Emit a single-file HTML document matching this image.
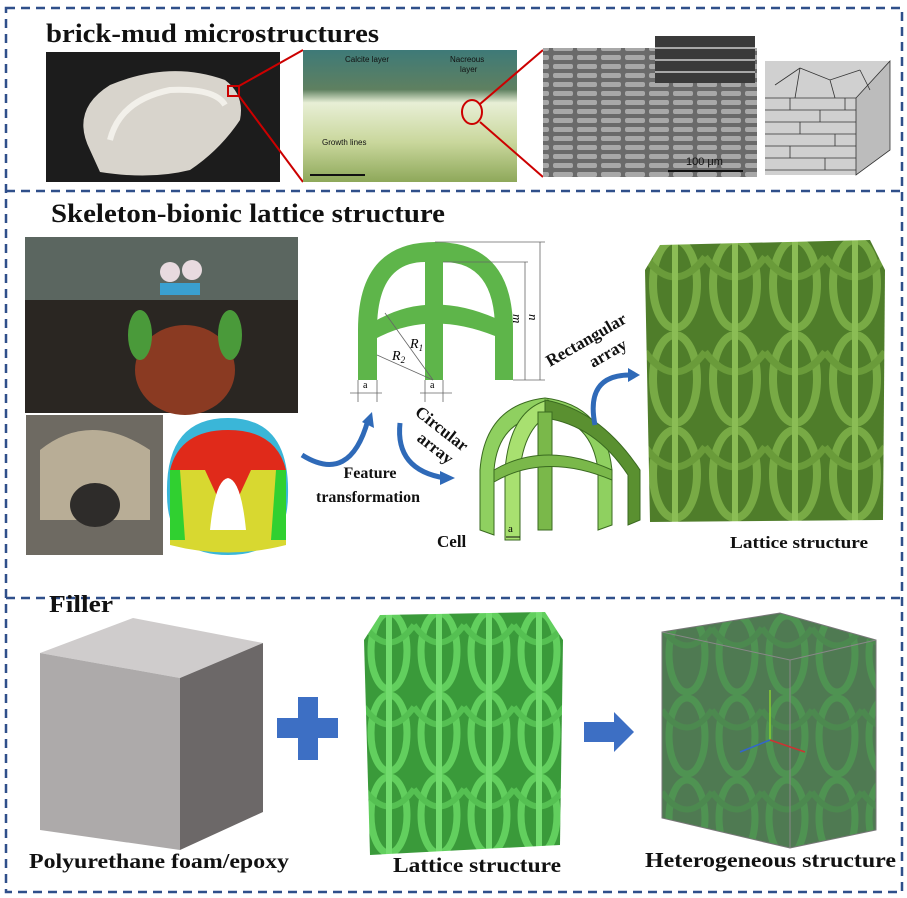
<!DOCTYPE html>
<html><head><meta charset="utf-8"><style>
html,body{margin:0;padding:0;background:#fff}
svg{display:block}
.t{font-family:"Liberation Serif",serif;font-weight:bold;fill:#111}
</style></head><body>
<svg width="907" height="898" viewBox="0 0 907 898" xmlns="http://www.w3.org/2000/svg">
<defs>
<pattern id="lat" x="645" y="237" width="60" height="95" patternUnits="userSpaceOnUse">
<rect width="60" height="95" fill="#4f7d2a"/>
<ellipse cx="30" cy="47" rx="22" ry="44" fill="none" stroke="#78aa45" stroke-width="8"/>
<path d="M0 20 Q30 60 60 20" fill="none" stroke="#6a9b3a" stroke-width="7"/>
<rect x="27" y="0" width="6" height="95" fill="#8bbd55"/>
</pattern>
<pattern id="lat2" x="364" y="610" width="50" height="82" patternUnits="userSpaceOnUse">
<rect width="50" height="82" fill="#3a9a3a"/>
<ellipse cx="25" cy="41" rx="18" ry="38" fill="none" stroke="#62cf5e" stroke-width="7"/>
<path d="M0 15 Q25 50 50 15" fill="none" stroke="#55c052" stroke-width="6"/>
<rect x="22" y="0" width="6" height="82" fill="#72dc6e"/>
</pattern>
<pattern id="lat3" x="662" y="613" width="50" height="82" patternUnits="userSpaceOnUse">
<rect width="50" height="82" fill="#2f6a2f"/>
<ellipse cx="25" cy="41" rx="18" ry="38" fill="none" stroke="#2f8f2f" stroke-width="7"/>
<path d="M0 15 Q25 50 50 15" fill="none" stroke="#2a802a" stroke-width="6"/>
</pattern>
<linearGradient id="micro" x1="0" y1="0" x2="0" y2="1">
<stop offset="0" stop-color="#3e7a78"/><stop offset=".3" stop-color="#5f8060"/><stop offset=".4" stop-color="#e8efd6"/><stop offset=".7" stop-color="#c9d79c"/><stop offset="1" stop-color="#8ea85a"/></linearGradient>
<pattern id="sem" width="24" height="9" patternUnits="userSpaceOnUse">
<rect width="24" height="9" fill="#6a6a6a"/><rect x="1" y="1" width="20" height="5" rx="2" fill="#a8a8a8"/></pattern>
</defs>
<rect x="6" y="8" width="896" height="884" fill="none" stroke="#2f4f8a" stroke-width="2.5" stroke-dasharray="9,6"/>
<line x1="6" y1="191" x2="902" y2="191" stroke="#2f4f8a" stroke-width="2.5" stroke-dasharray="9,6"/>
<line x1="6" y1="598" x2="902" y2="598" stroke="#2f4f8a" stroke-width="2.5" stroke-dasharray="9,6"/>

<text class="t" x="46" y="42" font-size="26" textLength="333" lengthAdjust="spacingAndGlyphs">brick-mud microstructures</text>
<rect x="46" y="52" width="234" height="130" fill="#1c1c1c"/>
<path d="M90 150 Q70 110 110 85 Q170 60 225 80 Q245 95 240 120 Q220 150 190 170 Q150 180 100 172 Z" fill="#d8d4cc"/>
<path d="M110 140 Q120 100 170 90 Q215 88 225 105" fill="none" stroke="#f2f0ea" stroke-width="6"/>
<rect x="228" y="86" width="11" height="10" fill="none" stroke="#c00" stroke-width="2"/>
<line x1="239" y1="86" x2="303" y2="50" stroke="#c00" stroke-width="2"/>
<line x1="239" y1="96" x2="303" y2="182" stroke="#c00" stroke-width="2"/>
<rect x="303" y="50" width="214" height="132" fill="url(#micro)"/>
<text x="345" y="62" font-family="Liberation Sans,sans-serif" font-size="8" fill="#111">Calcite layer</text>
<text x="450" y="62" font-family="Liberation Sans,sans-serif" font-size="8" fill="#111">Nacreous</text>
<text x="460" y="72" font-family="Liberation Sans,sans-serif" font-size="8" fill="#111">layer</text>
<text x="322" y="145" font-family="Liberation Sans,sans-serif" font-size="8" fill="#111">Growth lines</text>
<rect x="310" y="174" width="55" height="2" fill="#111"/>
<ellipse cx="472" cy="112" rx="10" ry="12" fill="none" stroke="#c00" stroke-width="2"/>
<line x1="480" y1="104" x2="543" y2="50" stroke="#c00" stroke-width="2"/>
<line x1="480" y1="122" x2="543" y2="177" stroke="#c00" stroke-width="2"/>
<rect x="543" y="48" width="214" height="129" fill="url(#sem)"/>
<rect x="655" y="36" width="100" height="47" fill="#3a3a3a"/>
<g stroke="#ccc" stroke-width="1.5"><line x1="655" y1="48" x2="755" y2="48"/><line x1="655" y1="60" x2="755" y2="60"/><line x1="655" y1="72" x2="755" y2="72"/></g>
<rect x="668" y="170" width="75" height="2" fill="#111"/>
<text x="686" y="165" font-family="Liberation Sans,sans-serif" font-size="11" fill="#111">100 μm</text>
<polygon points="765,61 890,61 890,150 856,175 765,175" fill="#d0d0d0"/>
<polygon points="856,98 890,61 890,150 856,175" fill="#bcbcbc" stroke="#333" stroke-width="0.8"/>
<g stroke="#333" stroke-width="0.8" fill="none">
<path d="M765 98 L856 98"/><path d="M765 110 H856 M765 122 H856 M765 134 H856 M765 146 H856 M765 158 H856 M765 170 H856"/>
<path d="M790 98v12 M820 110v12 M800 122v12 M835 134v12 M790 146v12 M825 158v12 M845 98v12"/>
<path d="M775 85 L800 68 M800 68 L830 80 L860 70 M830 80 L835 98 M800 68 L795 98 M860 70 L870 90"/>
</g>

<text class="t" x="51" y="222" font-size="26" textLength="394" lengthAdjust="spacingAndGlyphs">Skeleton-bionic lattice structure</text>
<rect x="25" y="237" width="273" height="176" fill="#5b6660"/>
<rect x="25" y="300" width="273" height="113" fill="#2a2622"/>
<ellipse cx="185" cy="370" rx="50" ry="45" fill="#8a3a22"/>
<ellipse cx="140" cy="335" rx="12" ry="25" fill="#4a9a3a"/>
<ellipse cx="230" cy="335" rx="12" ry="25" fill="#4a9a3a"/>
<circle cx="170" cy="272" r="10" fill="#e8dadf"/><circle cx="192" cy="270" r="10" fill="#e8dadf"/>
<rect x="160" y="283" width="40" height="12" fill="#3aa0d0"/>
<rect x="26" y="415" width="137" height="140" fill="#6e6a62"/>
<path d="M40 450 Q90 410 150 450 L150 520 L40 520Z" fill="#b8ad96"/>
<ellipse cx="95" cy="505" rx="25" ry="22" fill="#2e2c2a"/>
<g>
<path d="M167 495 Q165 418 228 418 Q290 418 288 495 Q288 555 228 555 Q167 555 167 495Z" fill="#3ab6d8"/>
<path d="M170 470 Q180 430 228 430 Q276 430 286 470 L286 540 L170 540Z" fill="#e02a1a"/>
<path d="M170 470 L205 470 L228 520 L251 470 L286 470 L286 545 Q228 560 170 545Z" fill="#d8d830"/>
<path d="M170 470 L180 470 L185 540 L170 540Z M286 470 L276 470 L271 540 L286 540Z" fill="#30d030"/>
<path d="M210 530 Q215 480 228 478 Q241 480 246 530Z" fill="#fff"/>
</g>

<path d="M358 380 L358 330 Q358 242 435 242 Q513 242 513 330 L513 380 L495 380 L495 330 Q495 262 443 262 L443 380 L425 380 L425 262 Q377 262 377 330 L377 380 Z" fill="#5eb54a"/>
<path d="M377 320 Q430 290 495 318 L495 336 Q430 310 377 338Z" fill="#5eb54a"/>
<g stroke="#666" stroke-width="0.8" fill="none">
<line x1="435" y1="242" x2="545" y2="242"/><line x1="443" y1="262" x2="528" y2="262"/>
<line x1="513" y1="380" x2="545" y2="380"/>
<line x1="540" y1="242" x2="540" y2="380"/><line x1="525" y1="262" x2="525" y2="380"/>
<line x1="385" y1="313" x2="433" y2="380"/><line x1="377" y1="355" x2="433" y2="380"/>
<line x1="358" y1="380" x2="358" y2="402"/><line x1="377" y1="380" x2="377" y2="402"/>
<line x1="425" y1="380" x2="425" y2="402"/><line x1="443" y1="380" x2="443" y2="402"/>
<line x1="350" y1="393" x2="382" y2="393"/><line x1="420" y1="393" x2="452" y2="393"/>
</g>
<text x="363" y="388" font-family="Liberation Serif,serif" font-size="10">a</text>
<text x="430" y="388" font-family="Liberation Serif,serif" font-size="10">a</text>
<text x="410" y="348" font-family="Liberation Serif,serif" font-size="14" font-style="italic">R<tspan font-size="9" dy="3">1</tspan></text>
<text x="392" y="360" font-family="Liberation Serif,serif" font-size="14" font-style="italic">R<tspan font-size="9" dy="3">2</tspan></text>
<text x="513" y="322" font-family="Liberation Serif,serif" font-size="13" font-style="italic" transform="rotate(90 517 318)">m</text>
<text x="529" y="322" font-family="Liberation Serif,serif" font-size="13" font-style="italic" transform="rotate(90 533 318)">n</text>

<path d="M480 530 L480 470 Q485 405 545 398 Q605 405 612 470 L612 525 L598 530 L598 470 Q592 420 545 415 Q498 420 494 470 L494 535Z" fill="#8fd060" stroke="#3a6a20" stroke-width="1"/>
<path d="M505 540 L505 470 Q510 410 548 400 L560 410 Q525 420 520 470 L520 540Z" fill="#a8e070" stroke="#3a6a20" stroke-width="1"/>
<path d="M545 400 Q600 410 640 470 L640 520 L628 525 L628 475 Q595 425 545 418Z" fill="#5a9030" stroke="#3a6a20" stroke-width="1"/>
<path d="M538 412 L552 412 L552 530 L538 530Z" fill="#7ab84a" stroke="#3a6a20" stroke-width="1"/>
<path d="M494 470 Q545 440 612 470 L612 480 Q545 452 494 482Z" fill="#7ab84a" stroke="#3a6a20" stroke-width="1"/>
<line x1="506" y1="537" x2="520" y2="537" stroke="#111" stroke-width="1"/>
<text x="508" y="532" font-family="Liberation Serif,serif" font-size="11">a</text>
<text class="t" x="437" y="547" font-size="17">Cell</text>

<g fill="none" stroke="#2f6ab8" stroke-width="5">
<path d="M302 455 Q350 485 368 420"/>
<path d="M400 423 Q395 470 445 478"/>
<path d="M595 425 Q585 375 630 375"/>
</g>
<polygon points="362,422 372,412 374,428" fill="#2f6ab8"/>
<polygon points="440,471 455,478 440,485" fill="#2f6ab8"/>
<polygon points="628,368 640,375 628,382" fill="#2f6ab8"/>
<text class="t" x="370" y="478" font-size="16" text-anchor="middle">Feature</text>
<text class="t" x="368" y="502" font-size="16" text-anchor="middle">transformation</text>
<text class="t" x="414" y="414" font-size="17" transform="rotate(38 414 414)">Circular</text>
<text class="t" x="416" y="440" font-size="17" transform="rotate(38 416 440)">array</text>
<text class="t" x="550" y="367" font-size="17" transform="rotate(-30 550 367)">Rectangular</text>
<text class="t" x="593" y="368" font-size="17" transform="rotate(-30 593 368)">array</text>

<path d="M645 270 L660 245 L870 240 L885 270 L883 520 L650 522 Z" fill="url(#lat)"/>
<text class="t" x="730" y="548" font-size="17" textLength="138" lengthAdjust="spacingAndGlyphs">Lattice structure</text>

<text class="t" x="49" y="612" font-size="24" textLength="64" lengthAdjust="spacingAndGlyphs">Filler</text>
<polygon points="40,653 133,618 263,643 180,678" fill="#cfcccc"/>
<polygon points="40,653 180,678 180,850 40,830" fill="#adaaaa"/>
<polygon points="180,678 263,643 263,812 180,850" fill="#6c6868"/>
<rect x="277" y="718" width="61" height="20" fill="#3d6fc4"/>
<rect x="298" y="697" width="20" height="63" fill="#3d6fc4"/>
<polygon points="584,722 614,722 614,712 634,732 614,752 614,742 584,742" fill="#3d6fc4"/>
<path d="M364 640 L380 615 L545 612 L563 640 L560 845 L370 855 Z" fill="url(#lat2)"/>
<polygon points="662,632 780,613 876,640 876,830 790,848 662,818" fill="url(#lat3)"/>
<polygon points="662,632 780,613 876,640 876,830 790,848 662,818" fill="#9aa0a4" fill-opacity="0.3" stroke="#777" stroke-width="1"/>
<line x1="790" y1="660" x2="790" y2="848" stroke="#888" stroke-width="1"/>
<line x1="662" y1="632" x2="790" y2="660" stroke="#888"/><line x1="876" y1="640" x2="790" y2="660" stroke="#888"/>
<line x1="770" y1="690" x2="770" y2="740" stroke="#8c3" stroke-width="1.5"/>
<line x1="770" y1="740" x2="740" y2="752" stroke="#36c" stroke-width="1.5"/>
<line x1="770" y1="740" x2="805" y2="752" stroke="#c33" stroke-width="1.5"/>
<text class="t" x="29" y="868" font-size="21" textLength="260" lengthAdjust="spacingAndGlyphs">Polyurethane foam/epoxy</text>
<text class="t" x="393" y="872" font-size="21" textLength="168" lengthAdjust="spacingAndGlyphs">Lattice structure</text>
<text class="t" x="645" y="867" font-size="21" textLength="251" lengthAdjust="spacingAndGlyphs">Heterogeneous structure</text>
</svg>
</body></html>
